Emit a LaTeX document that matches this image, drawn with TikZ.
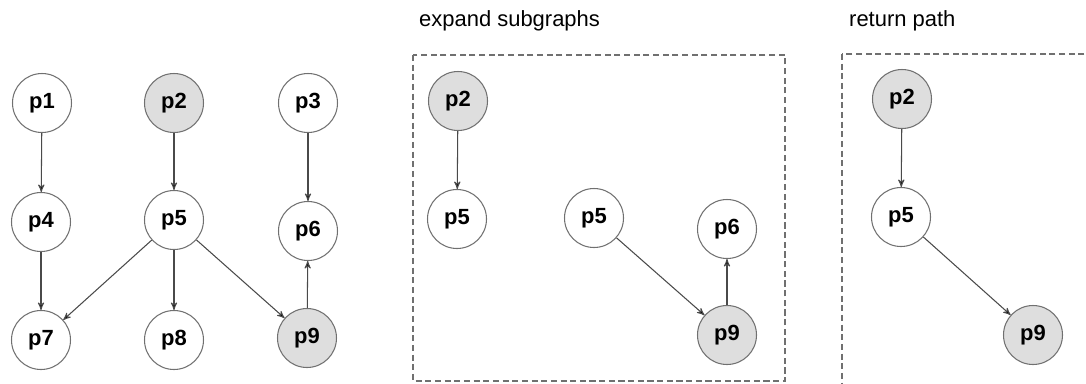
\documentclass[tikz,border=0pt]{standalone}
\usepackage{fontspec}
\setmainfont{Liberation Sans}
\usepackage{xcolor}
\usetikzlibrary{arrows,automata}
\definecolor{nodegray}{HTML}{DEDEDE}
\definecolor{rimgray}{HTML}{707070}
\definecolor{edgegray}{HTML}{4A4A4A}

\begin{document}
\begin{tikzpicture}[x=0.02cm,y=-0.02cm,
  every state/.style={draw=rimgray,line width=0.6pt,minimum size=1.18cm,inner sep=0pt,
    font=\fontsize{12.5}{15}\selectfont\bfseries},
  marked/.style={fill=nodegray},
  frame/.style={draw=rimgray,line width=0.6pt,dash pattern=on 3.5pt off 2pt}]
\useasboundingbox (0,0) rectangle (1086,383);
\clip (0,0) rectangle (1086,383);

% input graph
  \node[state]         (p1) at (42,103)  {p1};
  \node[state,marked]  (p2) at (174,103) {p2};
  \node[state]         (p3) at (308,103) {p3};
  \node[state]         (p4) at (41,222)  {p4};
  \node[state]         (p5) at (174,220) {p5};
  \node[state]         (p6) at (308,231) {p6};
  \node[state]         (p7) at (41,340)  {p7};
  \node[state]         (p8) at (174,340) {p8};
  \node[state,marked]  (p9) at (307,338) {p9};

% expand subgraphs
\node[anchor=base west,font=\fontsize{12.5}{15}\selectfont] (T1) at (413,26) {expand subgraphs};
\draw[frame] (413,55) rectangle (785,381);
  \node[state,marked]  (a2) at (458,101) {p2};
  \node[state]         (a5) at (457,219) {p5};
  \node[state]         (b5) at (594,218) {p5};
  \node[state]         (b6) at (727,229) {p6};
  \node[state,marked]  (b9) at (727,335) {p9};

% return path
\node[anchor=base west,font=\fontsize{12.5}{15}\selectfont] (T2) at (843,26) {return path};
\draw[frame] (842,54) rectangle (1110,400);
  \node[state,marked]  (r2) at (902,99)  {p2};
  \node[state]         (r5) at (901,217) {p5};
  \node[state,marked]  (r9) at (1033,335) {p9};

  \path[->,>=stealth',draw=edgegray,line width=0.6pt]
		(p1) edge (p4)
		(p2) edge (p5)
		(p3) edge (p6)
		(p4) edge (p7)
		(p5) edge (p7)
		(p5) edge (p8)
		(p5) edge (p9)
		(p9) edge (p6)
		(a2) edge (a5)
		(b5) edge (b9)
		(b9) edge (b6)
		(r2) edge (r5)
		(r5) edge (r9);
\end{tikzpicture}
\end{document}
